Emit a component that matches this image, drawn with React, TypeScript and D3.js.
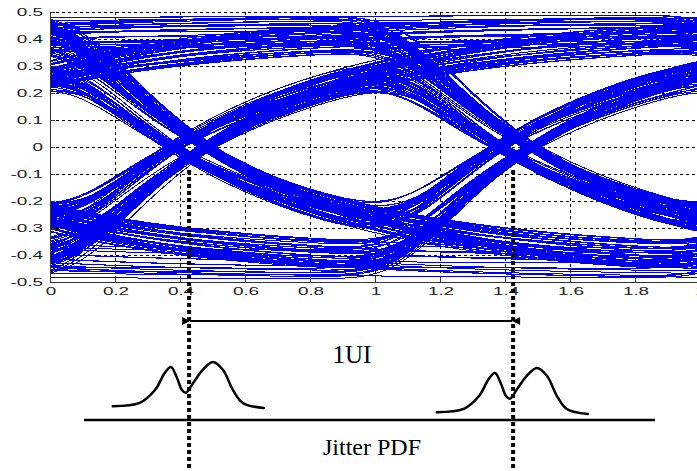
import React, { useMemo } from 'react';
import * as d3 from 'd3';

const W = 697;
const H = 471;

// Bit stream driving the eye traces (one trace per 2-UI window)
const bitPattern = '1101001110001011110010100110111000010110011101001011000111101100';
// Per-trace amplitude factors and timing skews (UI)
const traceGains = [1.0, 0.88, 0.95, 0.8, 0.97, 0.84, 0.92, 0.78, 0.99];
const traceSkews = [0.0, -0.015, 0.012, -0.006, 0.018, 0.005, -0.02];
const signalAmplitude = 0.49;
const edgePhase = 0.07;
const rcTau = 0.6;
const edgeBlur = 0.1;

const xTicks = [0, 0.2, 0.4, 0.6, 0.8, 1, 1.2, 1.4, 1.6, 1.8, 2];
const xTickLabels = ['0', '0.2', '0.4', '0.6', '0.8', '1', '1.2', '1.4', '1.6', '1.8', '2'];
const yTicks = [-0.5, -0.4, -0.3, -0.2, -0.1, 0, 0.1, 0.2, 0.3, 0.4, 0.5];
const yTickLabels = ['-0.5', '-0.4', '-0.3', '-0.2', '-0.1', '0', '0.1', '0.2', '0.3', '0.4', '0.5'];

// Crossing instants marked by the dotted lines (UI)
const crossings = [0.428, 1.425];
// Jitter PDF: offset from crossing (UI) and relative density
const pdfOffset = [-0.225, -0.142, -0.095, -0.065, -0.046, -0.028, -0.012, 0, 0.022, 0.052, 0.083, 0.114, 0.145, 0.175, 0.24];
const pdfDensity = [0.04, 0.11, 0.39, 0.76, 0.89, 0.67, 0.39, 0.33, 0.54, 0.83, 1.0, 0.83, 0.39, 0.11, 0.0];
const pdfCenters = [0.418, 1.415];

function erf(x: number) {
  const s = x < 0 ? -1 : 1;
  const a = Math.abs(x);
  const t = 1 / (1 + 0.3275911 * a);
  const y = 1 - (((((1.061405429 * t - 1.453152027) * t) + 1.421413741) * t - 0.284496736) * t + 0.254829592) * t * Math.exp(-a * a);
  return s * y;
}
const Phi = (z: number) => 0.5 * (1 + erf(z / Math.SQRT2));

// RC step response softened by a short Gaussian edge
function step(tau: number) {
  const z = tau / edgeBlur;
  const c = Phi(z - edgeBlur / rcTau);
  if (c === 0) return Phi(z);
  return Phi(z) - Math.exp(-tau / rcTau + (edgeBlur * edgeBlur) / (2 * rcTau * rcTau)) * c;
}
const pulse = (tau: number) => step(tau) - step(tau - 1);

const bits = bitPattern.split('').map((b) => (b === '1' ? 1 : -1));
const N = bits.length;

function signalAt(t: number) {
  const k0 = Math.floor(t);
  let s = 0;
  for (let k = k0 - 12; k <= k0 + 2; k++) {
    const a = bits[((k % N) + N) % N];
    s += a * pulse(t - (k + edgePhase));
  }
  return s;
}

export default function App() {
  const x = d3.scaleLinear().domain([0, 2]).range([50, 700]);
  const y = d3.scaleLinear().domain([-0.5, 0.5]).range([282, 12]);

  const traces = useMemo(() => {
    const out: string[] = [];
    const xs = d3.range(0, 2.0001, 0.01);
    const line = d3.line<[number, number]>().x((d) => x(d[0])).y((d) => y(d[1]));
    for (let i = 0; i < N; i++) {
      for (let j = 0; j < 5; j++) {
        const g = traceGains[(i + 2 * j) % traceGains.length];
        const sk = traceSkews[(i * 3 + j) % traceSkews.length];
        const pts = xs.map((xv) => [xv, signalAmplitude * g * signalAt(i + xv - sk)] as [number, number]);
        out.push(line(pts) || '');
      }
    }
    return out;
  }, []);

  const pdfLine = d3.line<[number, number]>().curve(d3.curveCatmullRom.alpha(0.5));
  const pdfScale = d3.scaleLinear().domain([0, 1]).range([0, -46]);
  const pdfBase = [408, 414];

  const [x0, x1] = [x(crossings[0]), x(crossings[1])];

  return (
    <svg width={W} height={H} style={{ position: 'absolute', left: 0, top: 0, background: '#fff' }}>
      <defs>
        <clipPath id="plotArea">
          <rect x={50} y={12} width={650} height={270} />
        </clipPath>
        <marker id="arrowHead" viewBox="0 0 10 10" refX="0" refY="5" markerWidth="10" markerHeight="8" orient="auto-start-reverse" markerUnits="userSpaceOnUse">
          <path d="M10,0 L0,5 L10,10 z" fill="#000" />
        </marker>
      </defs>
      <rect x={0} y={0} width={W} height={H} fill="#fff" />

      {/* grid */}
      <g stroke="#000" strokeWidth={1} strokeDasharray="3,3" shapeRendering="crispEdges">
        {xTicks.filter((t) => t > 0).map((t) => (
          <line key={'gx' + t} x1={x(t)} x2={x(t)} y1={12} y2={282} />
        ))}
        {yTicks.filter((t) => t > -0.5).map((t) => (
          <line key={'gy' + t} x1={50} x2={700} y1={y(t)} y2={y(t)} />
        ))}
      </g>

      {/* eye traces */}
      <g clipPath="url(#plotArea)" fill="none" stroke="#0000f0" strokeWidth={1} shapeRendering="crispEdges">
        {traces.map((d, i) => (
          <path key={i} d={d} />
        ))}
      </g>

      {/* axes */}
      <g stroke="#333" strokeWidth={1} shapeRendering="crispEdges">
        <line x1={50} x2={50} y1={12} y2={282} />
        <line x1={50} x2={700} y1={282} y2={282} />
        {yTicks.map((t) => (
          <line key={'ty' + t} x1={50} x2={55} y1={y(t)} y2={y(t)} />
        ))}
        {xTicks.map((t) => (
          <line key={'tx' + t} x1={x(t)} x2={x(t)} y1={282} y2={277} />
        ))}
      </g>

      {/* tick labels */}
      <g fontFamily="'Liberation Sans', Arial, sans-serif" fontSize={10.5} fill="#222">
        {yTicks.map((t, i) => (
          <text key={'ly' + t} transform={`translate(43,${y(t) + 3.8}) scale(1.8,1)`} textAnchor="end">
            {yTickLabels[i]}
          </text>
        ))}
        {xTicks.map((t, i) => (
          <text key={'lx' + t} transform={`translate(${x(t) + 1},${295}) scale(1.8,1)`} textAnchor="middle">
            {xTickLabels[i]}
          </text>
        ))}
      </g>

      {/* crossing markers */}
      <g stroke="#000" strokeWidth={4} strokeDasharray="4,3">
        {crossings.map((c) => (
          <line key={'c' + c} x1={x(c)} x2={x(c)} y1={170} y2={471} />
        ))}
      </g>

      {/* 1UI span */}
      <line x1={x0 + 1} x2={x1 - 1} y1={321} y2={321} stroke="#000" strokeWidth={2} markerStart="url(#arrowHead)" markerEnd="url(#arrowHead)" />
      <text x={352} y={363} textAnchor="middle" fontFamily="'Liberation Serif', 'Times New Roman', serif" fontSize={25} fill="#000">
        1UI
      </text>

      {/* jitter PDFs */}
      <g fill="none" stroke="#000" strokeWidth={2.5} strokeLinecap="round">
        {pdfCenters.map((c, ci) => (
          <path
            key={'pdf' + ci}
            d={pdfLine(pdfOffset.map((o, k) => [x(c + o), pdfBase[ci] + pdfScale(pdfDensity[k])] as [number, number])) || ''}
          />
        ))}
      </g>
      <line x1={84} x2={655} y1={420} y2={420} stroke="#000" strokeWidth={2.5} />
      <text x={323} y={455} fontFamily="'Liberation Serif', 'Times New Roman', serif" fontSize={24} fill="#000">
        Jitter PDF
      </text>
    </svg>
  );
}
